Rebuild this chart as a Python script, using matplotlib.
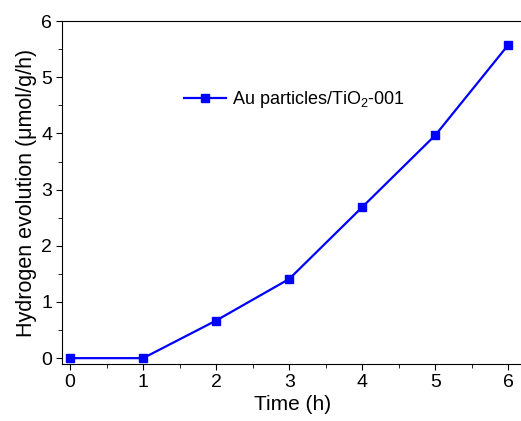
import matplotlib
matplotlib.use("Agg")
from matplotlib import pyplot as plt
from matplotlib.ticker import MultipleLocator

plt.rcParams['font.family'] = ['Liberation Sans', 'DejaVu Sans']
plt.rcParams['mathtext.fontset'] = 'custom'
plt.rcParams['mathtext.rm'] = 'Liberation Sans'

# data
time_h = [0, 1, 2, 3, 4, 5, 6]
h2_rate = [0.0, 0.0, 0.67, 1.41, 2.69, 3.97, 5.58]
label = r'Au particles/TiO$_2$-001'

fig = plt.figure(figsize=(5.21, 4.21), dpi=100)
# right spine sits just past the image edge, as in the reference
ax = fig.add_axes([0.119, 0.135, 0.885, 0.815])

ax.plot(time_h, h2_rate, color='#0000ff', lw=1.6, marker='s', ms=5.5, label=label)

ax.set_xlim(-0.11, 6.2)
ax.set_ylim(-0.107, 6)
ax.xaxis.set_major_locator(MultipleLocator(1))
ax.xaxis.set_minor_locator(MultipleLocator(0.5))
ax.yaxis.set_major_locator(MultipleLocator(1))
ax.yaxis.set_minor_locator(MultipleLocator(0.5))
ax.tick_params(which='both', direction='out', top=False, right=False, labelsize=14, pad=2.5)
ax.tick_params(which='major', length=4.5)
ax.tick_params(which='minor', length=3)

ax.set_xlabel('Time (h)', fontsize=15, labelpad=3)
ax.set_ylabel('Hydrogen evolution (μmol/g/h)', fontsize=15.5, labelpad=3)

ax.legend(loc='center left', bbox_to_anchor=(0.23, 0.77), frameon=False, fontsize=13,
          handlelength=2.3, handletextpad=0.35)

fig.savefig('out.png', dpi=100)
